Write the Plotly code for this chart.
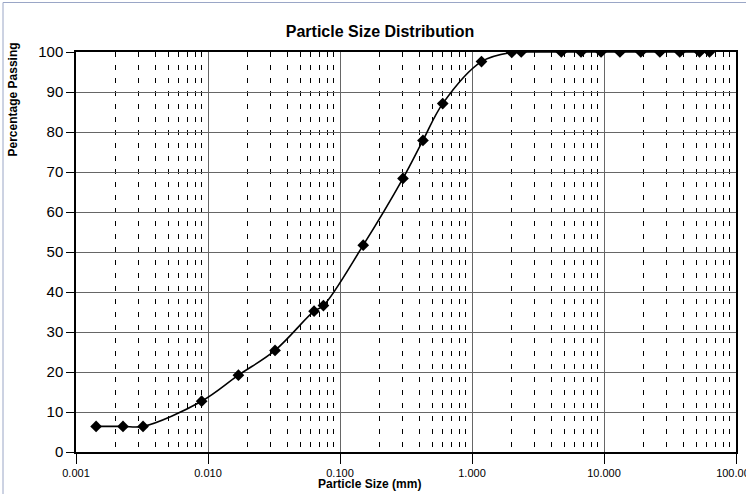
import plotly.graph_objects as go

# Sieve / hydrometer results: particle size (mm) vs percentage passing
particle_size_mm = [0.00142, 0.00227, 0.00322, 0.00895, 0.0170, 0.0322, 0.0636, 0.0749,
                    0.150, 0.300, 0.425, 0.600, 1.18, 2.0, 2.36, 4.75, 6.7, 9.5,
                    13.2, 19.0, 26.5, 37.5, 53.0, 63.0]
percent_passing = [6.4, 6.4, 6.4, 12.7, 19.2, 25.4, 35.2, 36.6,
                   51.7, 68.4, 77.9, 87.1, 97.6, 99.9, 100.0, 100.0, 100.0, 100.0,
                   100.0, 100.0, 100.0, 100.0, 100.0, 100.0]

x_tick_values = [0.001, 0.01, 0.1, 1, 10, 100]
x_tick_labels = ["0.001", "0.010", "0.100", "1.000", "10.000", "100.000"]
y_tick_values = list(range(0, 101, 10))

FONT = "Liberation Sans, Arial, sans-serif"

fig = go.Figure()
fig.add_trace(go.Scatter(
    x=particle_size_mm,
    y=percent_passing,
    mode="lines+markers",
    line=dict(color="black", width=1.6, shape="spline", smoothing=1.0),
    marker=dict(symbol="diamond", size=9, color="black"),
    showlegend=False,
    hoverinfo="x+y",
))

fig.update_layout(
    width=746,
    height=494,
    margin=dict(l=76, r=10, t=52, b=42),
    paper_bgcolor="white",
    plot_bgcolor="white",
    font=dict(family=FONT, color="black"),
    title=dict(
        text="<b>Particle Size Distribution</b>",
        x=380 / 746, xanchor="center",
        y=1 - 31 / 494, yanchor="middle",
        font=dict(size=16, family=FONT, color="black"),
    ),
    xaxis=dict(
        type="log",
        range=[-3, 2],
        tickvals=x_tick_values,
        ticktext=x_tick_labels,
        tickfont=dict(size=11, family=FONT),
        ticklabeloverflow="allow",
        automargin=False,
        ticks="outside", ticklen=10, tickwidth=1, tickcolor="black",
        showline=True, linecolor="black", linewidth=1.5, mirror=True,
        showgrid=True, gridcolor="#666666", gridwidth=1,
        minor=dict(dtick="D1", showgrid=True, gridcolor="black", gridwidth=1,
                   griddash="5px,8px", ticks=""),
        zeroline=False,
    ),
    yaxis=dict(
        range=[0, 100],
        tickvals=y_tick_values,
        tickfont=dict(size=15, family=FONT),
        automargin=False,
        ticks="outside", ticklen=8, tickwidth=1, tickcolor="black",
        showline=True, linecolor="black", linewidth=1.5, mirror=True,
        showgrid=True, gridcolor="#666666", gridwidth=1,
        zeroline=False,
    ),
)

# Axis titles placed as annotations
fig.add_annotation(
    text="<b>Particle Size (mm)</b>",
    xref="paper", yref="paper",
    x=(369 - 76) / 660, y=-(484 - 452.5) / 400,
    xanchor="center", yanchor="middle",
    showarrow=False, font=dict(size=12, family=FONT, color="black"),
)
fig.add_annotation(
    text="<b>Percentage Passing</b>",
    xref="paper", yref="paper",
    x=-(76 - 12) / 660, y=(452.5 - 100) / 400,
    xanchor="center", yanchor="middle", textangle=-90,
    showarrow=False, font=dict(size=12, family=FONT, color="black"),
)

# Light chart-area frame
fig.add_shape(
    type="rect", xref="paper", yref="paper",
    x0=-(76 - 3) / 660, x1=1.2, y0=-0.3, y1=(452.5 - 3) / 400,
    line=dict(color="#9aa6c6", width=1), layer="below",
)

fig.write_html("out.html")
